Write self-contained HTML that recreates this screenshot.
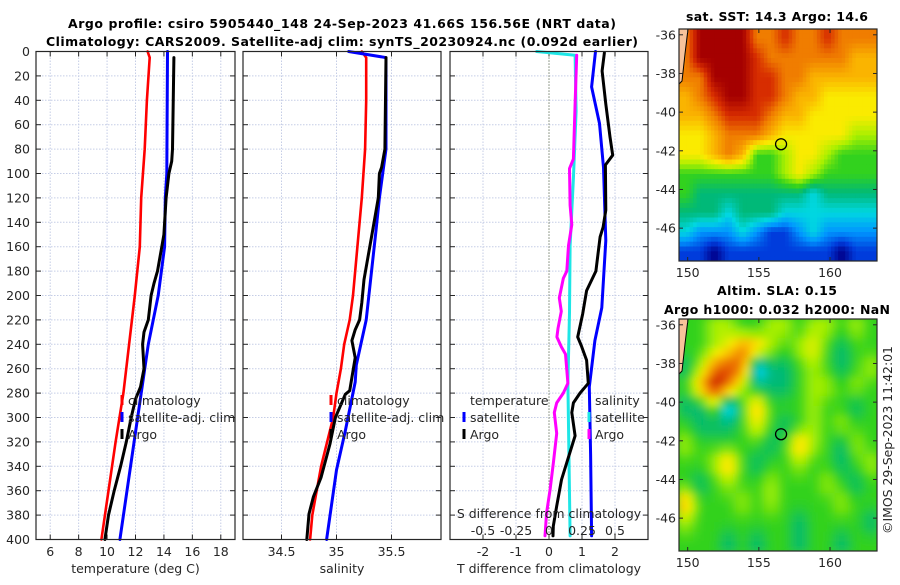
<!DOCTYPE html>
<html><head><meta charset="utf-8"><style>
html,body{margin:0;padding:0;background:#fff;}
svg text{font-family:"DejaVu Sans","Liberation Sans",sans-serif;fill:#262626;}
</style></head><body>
<svg id="s" width="900" height="580" viewBox="0 0 900 580" xmlns="http://www.w3.org/2000/svg">
<defs>
<filter id="blur" x="-5%" y="-5%" width="110%" height="110%"><feGaussianBlur stdDeviation="4"/></filter>
<clipPath id="clipTop"><rect x="679" y="29" width="198" height="232"/></clipPath>
<clipPath id="clipBot"><rect x="679" y="319" width="198" height="232"/></clipPath>
</defs>
<text x="342" y="28" text-anchor="middle" font-weight="bold" font-size="12.5" textLength="548" style="fill:#000">Argo profile: csiro 5905440_148 24-Sep-2023 41.66S 156.56E (NRT data)</text>
<text x="342" y="46" text-anchor="middle" font-weight="bold" font-size="12.5" textLength="592" style="fill:#000">Climatology: CARS2009. Satellite-adj clim: synTS_20230924.nc (0.092d earlier)</text>
<text x="777" y="21" text-anchor="middle" font-weight="bold" font-size="12.5" textLength="182" style="fill:#000">sat. SST: 14.3 Argo: 14.6</text>
<text x="777" y="295" text-anchor="middle" font-weight="bold" font-size="12.5" textLength="120" style="fill:#000">Altim. SLA: 0.15</text>
<text x="777" y="314" text-anchor="middle" font-weight="bold" font-size="12.5" textLength="226" style="fill:#000">Argo h1000: 0.032 h2000: NaN</text>
<text transform="translate(892,440) rotate(-90)" text-anchor="middle" font-size="12.5" textLength="188">©IMOS 29-Sep-2023 11:42:01</text>
</svg>
<script>
// ---- Temperature panel data ----
const tClimDepth=[0,5,40,80,120,160,200,240,280,320,360,400];
const tClimVal=[12.85,13.0,12.8,12.65,12.4,12.3,11.95,11.55,11.15,10.6,10.1,9.6];
const tSatDepth=[0,100,120,160,200,240,280,320,360,400];
const tSatVal=[14.25,14.2,14.1,14.05,13.6,12.9,12.4,11.9,11.4,10.9];
const tArgoDepth=[5,80,90,100,120,150,160,180,190,200,220,230,240,260,275,285,300,320,340,360,380,400];
const tArgoVal=[14.7,14.6,14.55,14.35,14.15,14.0,13.85,13.55,13.3,13.1,12.9,12.6,12.5,12.6,12.35,12.0,11.7,11.35,10.95,10.5,10.1,9.85];
// ---- Salinity panel data ----
const sClimDepth=[0,5,40,80,120,160,200,220,240,260,280,300,340,380,400];
const sClimVal=[35.23,35.27,35.27,35.26,35.23,35.19,35.15,35.12,35.07,35.04,35.0,34.97,34.86,34.78,34.76];
const sSatDepth=[0,5,20,80,100,120,146,220,257,271,311,343,400];
const sSatVal=[35.11,35.45,35.45,35.45,35.42,35.39,35.36,35.27,35.18,35.17,35.08,35.0,34.91];
const sArgoDepth=[5,80,95,100,120,146,187,206,220,228,237,251,278,281,300,322,349,365,379,400];
const sArgoVal=[35.45,35.44,35.41,35.39,35.38,35.33,35.25,35.23,35.21,35.17,35.14,35.17,35.12,35.08,34.99,34.94,34.86,34.79,34.75,34.73];
// ---- Difference panel data ----
const dTSatDepth=[0,29,59,95,155,210,237,275,330,397];
const dTSatVal=[1.41,1.29,1.53,1.65,1.72,1.60,1.39,1.22,1.26,1.29];
const dTArgoDepth=[1,16,43,70,85,93,130,144,152,180,196,215,234,242,253,272,280,288,296,315,337,351,373,389,397];
const dTArgoVal=[1.68,1.61,1.72,1.85,1.93,1.71,1.72,1.64,1.55,1.42,1.14,1.02,0.87,0.99,1.14,1.19,0.94,0.74,0.69,0.79,0.54,0.38,0.23,0.13,0.12];
const dSSatDepth=[0,3,49,104,159,214,272,397];
const dSSatVal=[-0.093,0.198,0.205,0.185,0.16,0.155,0.143,0.16];
const dSArgoDepth=[3,43,88,96,126,142,159,180,186,202,213,227,234,242,248,272,280,288,296,313,337,359,378,397];
const dSArgoVal=[0.21,0.198,0.185,0.155,0.16,0.173,0.148,0.135,0.108,0.078,0.093,0.068,0.06,0.093,0.125,0.143,0.108,0.058,0.04,0.058,0.033,0.008,-0.018,-0.03];
// ---- Tick labels ----
const depthTicks=[0,20,40,60,80,100,120,140,160,180,200,220,240,260,280,300,320,340,360,380,400];
const tTicks=[6,8,10,12,14,16,18];
const sTicks=[34.5,35,35.5];
const dTTicks=[-2,-1,0,1,2];
const dSTicks=[-0.5,-0.25,0,0.25,0.5];
const dSTickLabels=["-0.5","-0.25","0","0.25","0.5"];
const lonTicks=[150,155,160];
const latTicks=[-36,-38,-40,-42,-44,-46];
// ---- Map fields (colour index 0..11), rows north->south, cols west->east ----
const sstGrid=[
[9,11,11,11,11,9,9,10,9,9,10,9,9,9],
[9,11,11,11,11,10,9,9,9,9,9,9,8,8],
[9,9,11,11,11,10,10,9,9,8,8,8,8,8],
[8,9,10,11,11,10,10,9,8,8,7,7,7,7],
[8,8,9,10,10,10,9,8,8,7,7,7,7,7],
[7,7,8,9,9,9,8,7,7,7,7,7,6,6],
[7,7,8,9,8,5,5,6,7,7,6,5,5,5],
[5,5,5,5,5,5,5,6,7,6,5,5,5,5],
[5,4,4,4,4,4,4,4,4,3,4,4,4,4],
[4,4,4,3,4,4,4,3,3,3,3,3,3,3],
[3,2,2,2,3,2,1,1,2,3,2,2,2,2],
[1,1,0,1,1,1,1,1,1,1,1,0,1,1]];
const slaGrid=[
[5,5,6,6,5,5,6,6,5,6,6,5,6,5],
[5,5,6,7,9,8,6,5,6,7,5,4,5,5],
[4,6,9,10,9,2,4,4,5,6,5,4,5,6],
[5,8,11,9,6,4,4,4,5,6,6,5,6,5],
[4,4,6,2,5,8,5,5,5,6,5,5,4,5],
[5,4,4,4,5,7,5,4,5,6,5,6,5,5],
[6,5,5,5,5,5,4,5,8,6,5,4,6,5],
[5,5,6,8,5,4,5,5,6,5,5,4,5,6],
[5,4,5,6,5,5,6,5,5,5,6,5,4,5],
[8,5,5,5,6,5,6,5,5,5,5,6,5,5],
[6,5,5,5,5,5,5,5,4,5,5,5,5,4],
[5,5,5,4,5,4,5,5,4,5,5,4,5,5]];
const argoLon=156.56, argoLat=-41.66;

const NS="http://www.w3.org/2000/svg";
const svg=document.getElementById('s');
function el(tag,attrs,parent){const e=document.createElementNS(NS,tag);for(const k in attrs)e.setAttribute(k,attrs[k]);(parent||svg).appendChild(e);return e;}
const TOP=51.5,BOT=539.5;
function yD(d){return TOP+d*(BOT-TOP)/400;}
const panels=[
 {name:'temperature',x0:36,x1:235,min:5,max:19},
 {name:'salinity',x0:243,x1:441,min:34.15,max:35.95},
 {name:'difference',x0:450,x1:648,min:-3,max:3}];
function xf(p,v){return p.x0+(v-p.min)*(p.x1-p.x0)/(p.max-p.min);}
const colorIdx=[[0,0,140],[0,60,220],[0,150,255],[0,215,225],[0,185,120],[50,210,30],[170,240,0],[250,235,0],[250,180,0],[240,125,0],[215,45,0],[165,0,0]];
function colF(v){v=Math.max(0,Math.min(11,v));const i=Math.min(10,Math.floor(v)),f=v-i;const a=colorIdx[i],b=colorIdx[i+1];
  return 'rgb('+a.map((c,k)=>Math.round(c+(b[k]-c)*f)).join(',')+')';}

function panelFrame(p,ticks,labels,xlabel,showY){
  const g=el('g',{});
  
  
  depthTicks.forEach(d=>{const l=el('line',{x1:p.x0,x2:p.x1,y1:yD(d),y2:yD(d),stroke:'#c5cde6','stroke-width':1,'stroke-dasharray':'1.5,1.5'},g);});
  ticks.forEach((t,i)=>{const x=xf(p,t);
    const l=el('line',{x1:x,x2:x,y1:TOP,y2:BOT,stroke:'#c5cde6','stroke-width':1,'stroke-dasharray':'1.5,1.5'},g);
    
    el('line',{x1:x,x2:x,y1:BOT,y2:BOT-5,stroke:'#262626'},g);el('line',{x1:x,x2:x,y1:TOP,y2:TOP+5,stroke:'#262626'},g);
    const tx=el('text',{x:x,y:556,'text-anchor':'middle','font-size':12.5},g);tx.textContent=labels[i];
    });
  depthTicks.forEach(d=>{el('line',{x1:p.x0,x2:p.x0+5,y1:yD(d),y2:yD(d),stroke:'#262626'},g);el('line',{x1:p.x1,x2:p.x1-5,y1:yD(d),y2:yD(d),stroke:'#262626'},g);
    if(showY){const tx=el('text',{x:30,y:yD(d)+4.5,'text-anchor':'end','font-size':12.5},g);tx.textContent=d;
      }});
  const xl=el('text',{x:(p.x0+p.x1)/2,y:573,'text-anchor':'middle','font-size':12.5},g);xl.textContent=xlabel;
  
  return g;
}
function frameRect(p){const r=el('rect',{x:p.x0,y:TOP,width:p.x1-p.x0,height:BOT-TOP,fill:'none',stroke:'#262626','stroke-width':1.2});}
function line(p,depths,vals,color,w,name,scale){
  const pts=depths.map((d,i)=>xf(p,vals[i]*(scale||1)).toFixed(1)+','+yD(d).toFixed(1)).join(' ');
  const pl=el('polyline',{points:pts,fill:'none',stroke:color,'stroke-width':w,'stroke-linejoin':'round','stroke-linecap':'round'});
  
  
}
function legendEntry(x,y,color,label,name){
  const g=el('g',{});
  
  
  if(color) el('line',{x1:x,x2:x,y1:y-10,y2:y,stroke:color,'stroke-width':3},g);
  const t=el('text',{x:x+6,y:y,'font-size':12.5},g);t.textContent=label;
}

panelFrame(panels[0],tTicks,tTicks.map(String),'temperature (deg C)',true);
panelFrame(panels[1],sTicks,sTicks.map(String),'salinity',false);
panelFrame(panels[2],dTTicks,dTTicks.map(String),'T difference from climatology',false);
const zl=el('line',{x1:xf(panels[2],0),x2:xf(panels[2],0),y1:TOP,y2:BOT,stroke:'#4d5a30','stroke-width':1,'stroke-dasharray':'1,2'});


line(panels[0],tClimDepth,tClimVal,'#ff0000',2.6,'temp-climatology-line');
line(panels[0],tSatDepth,tSatVal,'#0000ff',3,'temp-satellite-line');
line(panels[0],tArgoDepth,tArgoVal,'#000000',3,'temp-argo-line');
line(panels[1],sClimDepth,sClimVal,'#ff0000',2.6,'sal-climatology-line');
line(panels[1],sSatDepth,sSatVal,'#0000ff',3,'sal-satellite-line');
line(panels[1],sArgoDepth,sArgoVal,'#000000',3,'sal-argo-line');
line(panels[2],dSSatDepth,dSSatVal,'#1ee6e6',3,'sdiff-satellite-line',4);
line(panels[2],dTSatDepth,dTSatVal,'#0000ff',3,'tdiff-satellite-line');
line(panels[2],dTArgoDepth,dTArgoVal,'#000000',3,'tdiff-argo-line');
line(panels[2],dSArgoDepth,dSArgoVal,'#ff00ff',3,'sdiff-argo-line',4);
panels.forEach(frameRect);

legendEntry(122,405,'#ff0000','climatology','legend-temp-climatology');
legendEntry(122,422,'#0000ff','satellite-adj. clim','legend-temp-satellite');
legendEntry(122,439,'#000000','Argo','legend-temp-argo');
legendEntry(331,405,'#ff0000','climatology','legend-sal-climatology');
legendEntry(331,422,'#0000ff','satellite-adj. clim','legend-sal-satellite');
legendEntry(331,439,'#000000','Argo','legend-sal-argo');
legendEntry(464,405,null,'temperature','legend-temperature-header');
legendEntry(464,422,'#0000ff','satellite','legend-tdiff-satellite');
legendEntry(464,439,'#000000','Argo','legend-tdiff-argo');
legendEntry(589,405,null,'salinity','legend-salinity-header');
legendEntry(589,422,'#1ee6e6','satellite','legend-sdiff-satellite');
legendEntry(589,439,'#ff00ff','Argo','legend-sdiff-argo');
const sl=el('text',{x:549,y:518,'text-anchor':'middle','font-size':12.5});sl.textContent='S difference from climatology';

dSTicks.forEach((t,i)=>{const tx=el('text',{x:xf(panels[2],t*4),y:535,'text-anchor':'middle','font-size':12.5});tx.textContent=dSTickLabels[i];
  });

// maps
const MX0=679,MX1=877,LON0=149.39,LON1=163.3,LAT0=-35.7,LAT1=-47.7;
function lonX(l){return MX0+(l-LON0)*(MX1-MX0)/(LON1-LON0);}
function sample(grid,fr,fc){const R=grid.length,C=grid[0].length;
  fr=Math.max(0,Math.min(R-1,fr));fc=Math.max(0,Math.min(C-1,fc));
  const r0=Math.floor(fr),c0=Math.floor(fc),r1=Math.min(R-1,r0+1),c1=Math.min(C-1,c0+1),a=fr-r0,b=fc-c0;
  return grid[r0][c0]*(1-a)*(1-b)+grid[r0][c1]*(1-a)*b+grid[r1][c0]*a*(1-b)+grid[r1][c1]*a*b;}
function drawMap(grid,y0,y1,clip,blur,name,sub){
  function latY(a){return y0+(a-LAT0)*(y1-y0)/(LAT1-LAT0);}
  const g=el('g',{'clip-path':'url(#'+clip+')'});
  
  
  const inner=el('g',blur?{filter:'url(#blur)'}:{},g);
  const rows=grid.length,cols=grid[0].length;
  const R=rows*sub,C=cols*sub,cw=(MX1-MX0)/C,ch=(y1-y0)/R;
  if(blur) el('rect',{x:MX0-20,y:y0-20,width:MX1-MX0+40,height:y1-y0+40,fill:colF(5)},inner);
  for(let r=0;r<R;r++)for(let c=0;c<C;c++){
    const v=sample(grid,(r+0.5)/sub-0.5,(c+0.5)/sub-0.5);
    const cell=el('rect',{x:MX0+c*cw,y:y0+r*ch,width:cw+0.5,height:ch+0.5,fill:colF(v)},inner);
    
    
  }
  const land=el('path',{d:`M${MX0},${y0} L${MX0+9},${y0} L${MX0+6},${y0+25} L${MX0+3},${y0+52} L${MX0},${y0+55} Z`,fill:'#f7c39a',stroke:'#000','stroke-width':1},g);
  
  const m=el('circle',{cx:lonX(argoLon),cy:latY(argoLat),r:5.5,fill:'none',stroke:'#000','stroke-width':1.3});
  
  const fr=el('rect',{x:MX0,y:y0,width:MX1-MX0,height:y1-y0,fill:'none',stroke:'#262626','stroke-width':1.2});
  
  latTicks.forEach(a=>{const y=latY(a);el('line',{x1:MX0,x2:MX0+4,y1:y,y2:y,stroke:'#262626'});el('line',{x1:MX1,x2:MX1-4,y1:y,y2:y,stroke:'#262626'});
    const t=el('text',{x:MX0-3,y:y+4.5,'text-anchor':'end','font-size':12.5});t.textContent=a;
    });
  lonTicks.forEach(l=>{const x=lonX(l);el('line',{x1:x,x2:x,y1:y1,y2:y1-4,stroke:'#262626'});el('line',{x1:x,x2:x,y1:y0,y2:y0+4,stroke:'#262626'});
    const t=el('text',{x:x,y:y1+16,'text-anchor':'middle','font-size':12.5});t.textContent=l;
    });
}
drawMap(sstGrid,29,261,'clipTop',false,'sst-map',4);
drawMap(slaGrid,319,551,'clipBot',true,'sla-map',2);
</script>
</body></html>
